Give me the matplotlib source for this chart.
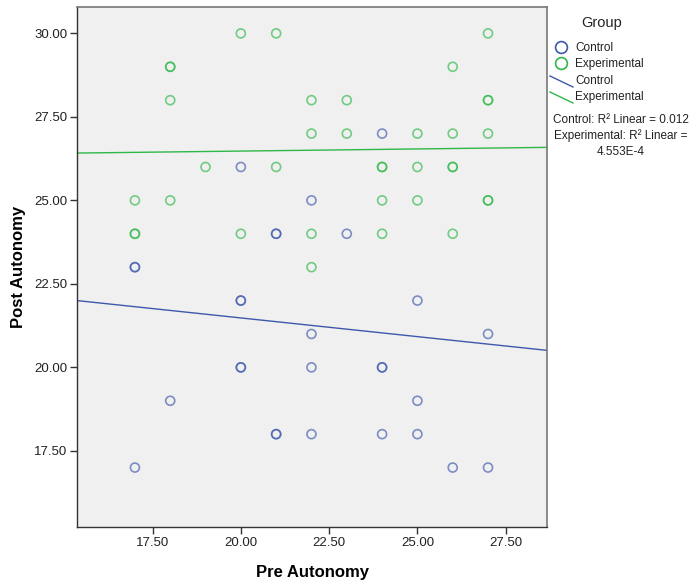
import numpy as np
import matplotlib
matplotlib.use("Agg")
import matplotlib.pyplot as plt
from matplotlib.lines import Line2D

plt.rcParams['font.family'] = ['Liberation Sans', 'DejaVu Sans']

# Control group (duplicates included)
control_pre = [24, 20, 22, 21, 21, 23, 17, 17, 20, 20, 25, 22, 27, 20, 20, 22, 24, 24,
               18, 25, 21, 21, 22, 24, 25, 17, 26, 27]
control_post = [27, 26, 25, 24, 24, 24, 23, 23, 22, 22, 22, 21, 21, 20, 20, 20, 20, 20,
                19, 19, 18, 18, 18, 18, 18, 17, 17, 17]

# Experimental group (duplicates included)
exp_pre = [20, 21, 27, 18, 18, 26, 18, 22, 23, 27, 27, 22, 23, 25, 26, 27,
           19, 21, 24, 24, 25, 26, 26, 17, 18, 24, 25, 27, 27,
           17, 17, 20, 22, 24, 26, 22]
exp_post = [30, 30, 30, 29, 29, 29, 28, 28, 28, 28, 28, 27, 27, 27, 27, 27,
            26, 26, 26, 26, 26, 26, 26, 25, 25, 25, 25, 25, 25,
            24, 24, 24, 24, 24, 24, 23]

# Fit lines (intercept, slope)
control_fit = (23.72, -0.112)
exp_fit = (26.22, 0.0128)

x_ticks = [17.5, 20.0, 22.5, 25.0, 27.5]
y_ticks = [17.5, 20.0, 22.5, 25.0, 27.5, 30.0]
r2_control = "0.012"
r2_exp = "4.553E-4"

blue = '#3E58AC'
green = '#2EB848'

fig = plt.figure(figsize=(6.99, 5.86), dpi=100)
W, H = 699, 586
ax = fig.add_axes([77 / W, 1 - 527 / H, (547 - 77) / W, (527 - 7) / H])
ax.set_facecolor('#F0F0F0')

xlim = (15.36, 28.67)
ylim = (15.22, 30.79)

ax.scatter(control_pre, control_post, s=42, facecolors='none', edgecolors=blue,
           linewidths=1.2, alpha=0.65, zorder=3)
ax.scatter(exp_pre, exp_post, s=42, facecolors='none', edgecolors=green,
           linewidths=1.2, alpha=0.65, zorder=3)

xs = np.array(xlim)
for (b, m), col in [(control_fit, blue), (exp_fit, green)]:
    ax.plot(xs, b + m * xs, color=col, lw=1.0, zorder=2)

ax.set_xlim(*xlim)
ax.set_ylim(*ylim)
ax.set_xticks(x_ticks)
ax.set_yticks(y_ticks)
ax.set_xticklabels([f"{v:.2f}" for v in x_ticks])
ax.set_yticklabels([f"{v:.2f}" for v in y_ticks])
ax.tick_params(axis='both', direction='out', length=5, width=1, colors='#333333',
               labelsize=9.5, labelcolor='#222222', pad=2)
ax.tick_params(top=False, right=False)
for s in ['left', 'bottom']:
    ax.spines[s].set_color('#333333')
    ax.spines[s].set_linewidth(1.0)
for s in ['top', 'right']:
    ax.spines[s].set_color('#777777')
    ax.spines[s].set_linewidth(1.2)

ax.set_xlabel('Pre Autonomy', fontsize=12, fontweight='bold', labelpad=12)
ax.set_ylabel('Post Autonomy', fontsize=12, fontweight='bold', labelpad=6)

# Legend drawn manually
def fx(px):
    return px / W

def fy(py):
    return 1 - py / H

fig.text(fx(602), fy(23), 'Group', fontsize=10.5, ha='center', va='center', color='#222222')
fig.add_artist(Line2D([fx(561)], [fy(47)], marker='o', markersize=8.5, markerfacecolor='none',
                      markeredgecolor=blue, markeredgewidth=1.2, linestyle='none'))
fig.add_artist(Line2D([fx(561)], [fy(63)], marker='o', markersize=8.5, markerfacecolor='none',
                      markeredgecolor=green, markeredgewidth=1.2, linestyle='none'))
fig.text(fx(575), fy(48), 'Control', fontsize=8.5, ha='left', va='center', color='#222222')
fig.text(fx(575), fy(64), 'Experimental', fontsize=8.5, ha='left', va='center', color='#222222')
fig.add_artist(Line2D([fx(550), fx(573)], [fy(76), fy(87)], color=blue, lw=1.0))
fig.add_artist(Line2D([fx(550), fx(573)], [fy(92), fy(103)], color=green, lw=1.0))
fig.text(fx(575), fy(81), 'Control', fontsize=8.5, ha='left', va='center', color='#222222')
fig.text(fx(575), fy(97), 'Experimental', fontsize=8.5, ha='left', va='center', color='#222222')
fig.text(fx(621), fy(120), f'Control: R\u00b2 Linear = {r2_control}', fontsize=8.5,
         ha='center', va='center', color='#222222')
fig.text(fx(621), fy(136), 'Experimental: R\u00b2 Linear =', fontsize=8.5,
         ha='center', va='center', color='#222222')
fig.text(fx(621), fy(152), r2_exp, fontsize=8.5, ha='center', va='center', color='#222222')

fig.savefig('out.png', dpi=100, facecolor='white')
